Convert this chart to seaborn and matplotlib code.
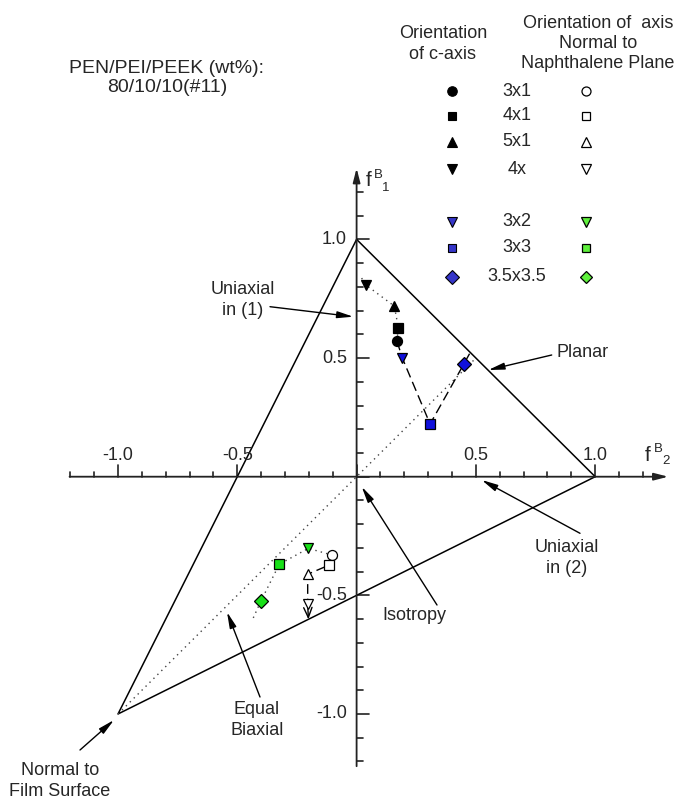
import matplotlib
matplotlib.use("Agg")
import matplotlib.pyplot as plt
import numpy as np
import pandas as pd
import seaborn as sns

# ---------------- data ----------------
labels = ["3x1", "4x1", "5x1", "4x", "3x2", "3x3", "3.5x3.5"]
markers = ["o", "s", "^", "v", "v", "s", "D"]
# orientation of c-axis (f^B_2, f^B_1)
c_x = [0.169, 0.175, 0.158, 0.039, 0.192, 0.308, 0.449]
c_y = [0.572, 0.628, 0.719, 0.808, 0.499, 0.222, 0.474]
# orientation of axis normal to naphthalene plane
n_x = [-0.104, -0.114, -0.205, -0.205, -0.202, -0.324, -0.401]
n_y = [-0.330, -0.372, -0.411, -0.536, -0.302, -0.369, -0.524]

# reference triangle (uniaxial 1, uniaxial 2, normal to film surface)
tri_x = [0.0, 1.0, -1.0, 0.0]
tri_y = [1.0, 0.0, -1.0, 1.0]
# equal-biaxial line
eb_x = [-1.0, 0.5]
eb_y = [-1.0, 0.5]

# connecting paths
up_dot_x = [0.021, 0.039, 0.158, 0.175, 0.169]
up_dot_y = [0.837, 0.808, 0.719, 0.628, 0.572]
up_dash_x = [0.169, 0.192, 0.308, 0.449, 0.482]
up_dash_y = [0.572, 0.499, 0.222, 0.474, 0.534]
lo_dot_x = [-0.433, -0.401, -0.324, -0.202, -0.104, -0.070]
lo_dot_y = [-0.595, -0.524, -0.369, -0.302, -0.330, -0.350]
lo_dash_x = [-0.104, -0.114, -0.205, -0.205]
lo_dash_y = [-0.330, -0.372, -0.411, -0.536]
lo_arrow_end = (-0.202, -0.601)

tick_vals = [-1.0, -0.5, 0.5, 1.0]
tick_text = ["-1.0", "-0.5", "0.5", "1.0"]

# ---------------- style ----------------
sns.set_theme(style="white")
plt.rcParams["font.family"] = ["Liberation Sans", "DejaVu Sans"]
FS = 13

fig = plt.figure(figsize=(6.81, 8.0), dpi=100)
ax = fig.add_axes([0, 0, 1, 1])

def X(px):
    return (px - 356.6) / 238.6

def Y(py):
    return (476.7 - py) / 237.3

ax.set_xlim(X(0), X(681))
ax.set_ylim(Y(800), Y(0))
ax.axis("off")

BLUE = "#1010dc"
GREEN = "#18e018"
BLUE_L = "#3535c8"
GREEN_L = "#5ef03c"

# axes with arrows
arr = dict(arrowstyle="-|>,head_length=0.7,head_width=0.18", lw=1.3, color="#222222",
           shrinkA=0, shrinkB=0, mutation_scale=12)
ax.annotate("", xy=(1.306, 0), xytext=(-1.203, 0), arrowprops=arr)
ax.annotate("", xy=(0, 1.30), xytext=(0, -1.22), arrowprops=arr)

# ticks
tv = np.round(np.arange(-12, 13) / 10, 2)
for v in tv:
    major = abs(v * 2 - round(v * 2)) < 1e-6
    lx = 12 / 237.3 if major else 5 / 237.3
    ly = 12 / 238.6 if major else 6 / 238.6
    ax.plot([v, v], [0, lx], color="#222222", lw=1.2)
    ax.plot([0, ly], [v, v], color="#222222", lw=1.2)

for v, t in zip(tick_vals, tick_text):
    ax.text(v, Y(455), t, ha="center", va="center", fontsize=FS)
    ax.text(X(347), v, t, ha="right", va="center", fontsize=FS)

# axis labels f^B_1 and f^B_2
ax.text(X(366), Y(181), "f", fontsize=15, ha="left", va="center")
ax.text(X(374), Y(175), "B", fontsize=9.5, ha="left", va="center")
ax.text(X(382), Y(188), "1", fontsize=9.5, ha="left", va="center")
ax.text(X(645), Y(455), "f", fontsize=15, ha="left", va="center")
ax.text(X(654), Y(449), "B", fontsize=9.5, ha="left", va="center")
ax.text(X(662), Y(461), "2", fontsize=9.5, ha="left", va="center")

# triangle and equal biaxial line
sns.lineplot(x=tri_x, y=tri_y, sort=False, ax=ax, color="black", lw=1.1, estimator=None)
sns.lineplot(x=eb_x, y=eb_y, sort=False, ax=ax, color="#444444", lw=1.0,
             linestyle=(0, (1, 3)), estimator=None)

# connecting paths
sns.lineplot(x=up_dot_x, y=up_dot_y, sort=False, ax=ax, color="#444444", lw=1.0,
             linestyle=(0, (1, 3)), estimator=None)
sns.lineplot(x=up_dash_x, y=up_dash_y, sort=False, ax=ax, color="black", lw=1.0,
             linestyle=(0, (7, 3.5)), estimator=None)
sns.lineplot(x=lo_dot_x, y=lo_dot_y, sort=False, ax=ax, color="#444444", lw=1.0,
             linestyle=(0, (1, 3)), estimator=None)
sns.lineplot(x=lo_dash_x, y=lo_dash_y, sort=False, ax=ax, color="black", lw=1.0,
             linestyle=(0, (7, 3.5)), estimator=None)
ax.annotate("", xy=lo_arrow_end, xytext=(n_x[3], n_y[3]),
            arrowprops=dict(arrowstyle="->,head_length=0.6,head_width=0.25", lw=1.0,
                            color="black", shrinkA=0, shrinkB=0, mutation_scale=12))

# markers
msz = {"o": 7.2, "s": 6.5, "^": 7.8, "v": 7.8, "D": 7.0}
for i, m in enumerate(markers):
    if i < 4:
        fc_c, fc_n = "black", "white"
    else:
        fc_c, fc_n = BLUE, GREEN
    ax.plot(c_x[i], c_y[i], marker=m, ms=msz[m], mfc=fc_c, mec="black", mew=0.9,
            ls="none", zorder=5)
    ax.plot(n_x[i], n_y[i], marker=m, ms=msz[m], mfc=fc_n, mec="black", mew=0.9,
            ls="none", zorder=5)

# legend block
rows_py = [91, 115.7, 141.7, 169, 221.7, 247.7, 276.7]
for i, (lab, m) in enumerate(zip(labels, markers)):
    yy = Y(rows_py[i])
    if i < 4:
        fc_c, fc_n, ec_n = "black", "white", "black"
    else:
        fc_c, fc_n, ec_n = BLUE_L, GREEN_L, "black"
    ax.plot(X(452), yy, marker=m, ms=msz[m] * 0.95, mfc=fc_c, mec="black",
            mew=0.8, ls="none")
    ax.plot(X(586), yy, marker=m, ms=msz[m] * 0.9, mfc=fc_n, mec=ec_n,
            mew=0.9, ls="none")
    ax.text(X(517), yy, lab, ha="center", va="center", fontsize=FS)

ax.text(X(443), Y(44), "Orientation\nof c-axis", ha="center", va="center",
        fontsize=FS, linespacing=1.25)
ax.text(X(598), Y(43.5), "Orientation of  axis\nNormal to\nNaphthalene Plane",
        ha="center", va="center", fontsize=FS, linespacing=1.25)

# title
ax.text(X(167), Y(78), "PEN/PEI/PEEK (wt%):\n80/10/10(#11)", ha="center",
        va="center", fontsize=14, linespacing=1.15)

# annotations
aprops = dict(arrowstyle="-|>,head_length=0.8,head_width=0.17", lw=1.0,
              color="black", shrinkA=0, shrinkB=0, mutation_scale=12)
ax.annotate("", xy=(X(353.3), Y(316.7)), xytext=(X(270), Y(306.7)), arrowprops=aprops)
ax.text(X(243), Y(300), "Uniaxial\nin (1)", ha="center", va="center", fontsize=FS,
        linespacing=1.25)

ax.annotate("", xy=(X(488.3), Y(370)), xytext=(X(551.7), Y(355)), arrowprops=aprops)
ax.text(X(556), Y(352), "Planar", ha="left", va="center", fontsize=FS)

ax.annotate("", xy=(X(481.7), Y(480)), xytext=(X(580), Y(533.3)), arrowprops=aprops)
ax.text(X(567), Y(558), "Uniaxial\nin (2)", ha="center", va="center", fontsize=FS,
        linespacing=1.25)

ax.annotate("", xy=(X(361.7), Y(486.7)), xytext=(X(437), Y(605)), arrowprops=aprops)
ax.text(X(414), Y(616), "Isotropy", ha="center", va="center", fontsize=FS)

ax.annotate("", xy=(X(227), Y(612)), xytext=(X(260), Y(697)), arrowprops=aprops)
ax.text(X(257), Y(720), "Equal\nBiaxial", ha="center", va="center", fontsize=FS,
        linespacing=1.25)

ax.annotate("", xy=(X(114), Y(720)), xytext=(X(80), Y(750)), arrowprops=aprops)
ax.text(X(60), Y(781), "Normal to\nFilm Surface", ha="center", va="center",
        fontsize=FS, linespacing=1.25)

fig.savefig("out.png", dpi=100)
